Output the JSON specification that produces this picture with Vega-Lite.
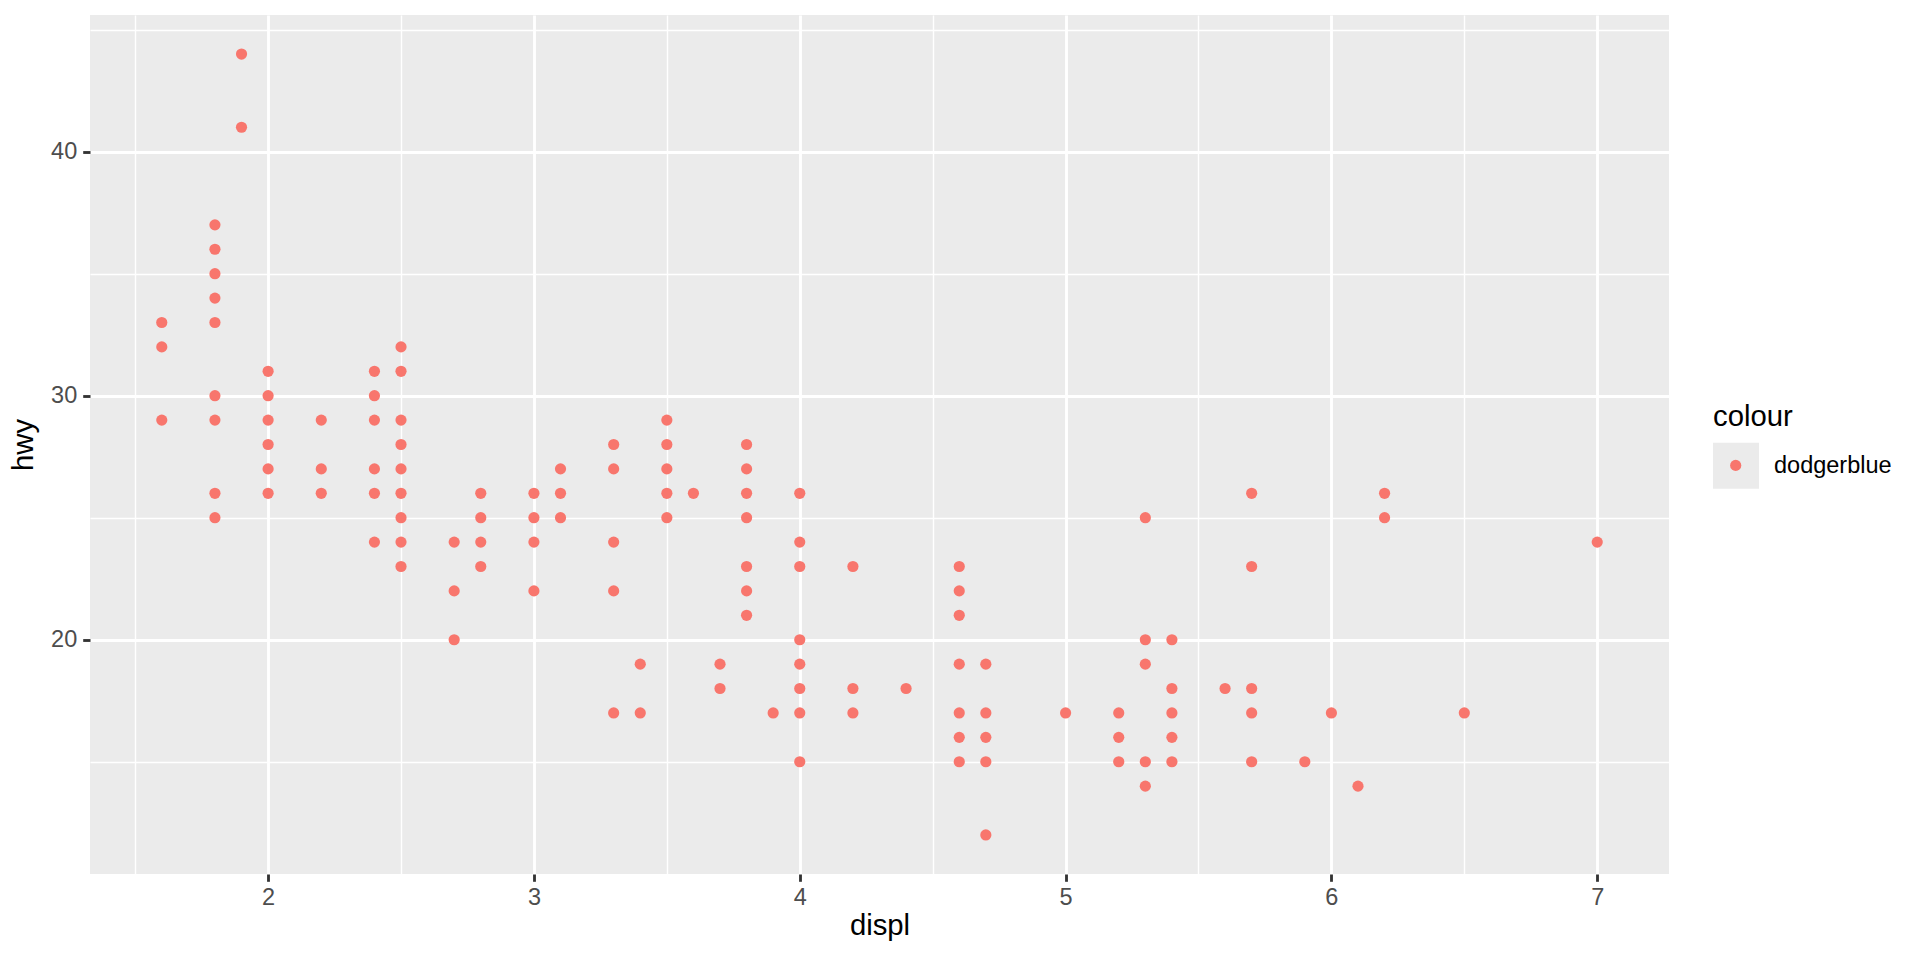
{
  "$schema": "https://vega.github.io/schema/vega-lite/v6.json",
  "width": 1579,
  "height": 859,
  "autosize": {"type": "none"},
  "padding": {"left": 90, "top": 15, "right": 251, "bottom": 86},
  "background": "white",
  "config": {
    "view": {"fill": "#EBEBEB", "stroke": null},
    "font": "Liberation Sans"
  },
  "data": {"values": [
    {"displ":1.6,"hwy":33,"colour":"dodgerblue"},{"displ":1.6,"hwy":32,"colour":"dodgerblue"},{"displ":1.6,"hwy":29,"colour":"dodgerblue"},
    {"displ":1.8,"hwy":37,"colour":"dodgerblue"},{"displ":1.8,"hwy":36,"colour":"dodgerblue"},{"displ":1.8,"hwy":35,"colour":"dodgerblue"},{"displ":1.8,"hwy":34,"colour":"dodgerblue"},{"displ":1.8,"hwy":33,"colour":"dodgerblue"},{"displ":1.8,"hwy":30,"colour":"dodgerblue"},{"displ":1.8,"hwy":29,"colour":"dodgerblue"},{"displ":1.8,"hwy":26,"colour":"dodgerblue"},{"displ":1.8,"hwy":25,"colour":"dodgerblue"},
    {"displ":1.9,"hwy":44,"colour":"dodgerblue"},{"displ":1.9,"hwy":41,"colour":"dodgerblue"},
    {"displ":2.0,"hwy":31,"colour":"dodgerblue"},{"displ":2.0,"hwy":30,"colour":"dodgerblue"},{"displ":2.0,"hwy":29,"colour":"dodgerblue"},{"displ":2.0,"hwy":28,"colour":"dodgerblue"},{"displ":2.0,"hwy":27,"colour":"dodgerblue"},{"displ":2.0,"hwy":26,"colour":"dodgerblue"},
    {"displ":2.2,"hwy":29,"colour":"dodgerblue"},{"displ":2.2,"hwy":27,"colour":"dodgerblue"},{"displ":2.2,"hwy":26,"colour":"dodgerblue"},
    {"displ":2.4,"hwy":31,"colour":"dodgerblue"},{"displ":2.4,"hwy":30,"colour":"dodgerblue"},{"displ":2.4,"hwy":29,"colour":"dodgerblue"},{"displ":2.4,"hwy":27,"colour":"dodgerblue"},{"displ":2.4,"hwy":26,"colour":"dodgerblue"},{"displ":2.4,"hwy":24,"colour":"dodgerblue"},
    {"displ":2.5,"hwy":32,"colour":"dodgerblue"},{"displ":2.5,"hwy":31,"colour":"dodgerblue"},{"displ":2.5,"hwy":29,"colour":"dodgerblue"},{"displ":2.5,"hwy":28,"colour":"dodgerblue"},{"displ":2.5,"hwy":27,"colour":"dodgerblue"},{"displ":2.5,"hwy":26,"colour":"dodgerblue"},{"displ":2.5,"hwy":25,"colour":"dodgerblue"},{"displ":2.5,"hwy":24,"colour":"dodgerblue"},{"displ":2.5,"hwy":23,"colour":"dodgerblue"},
    {"displ":2.7,"hwy":24,"colour":"dodgerblue"},{"displ":2.7,"hwy":22,"colour":"dodgerblue"},{"displ":2.7,"hwy":20,"colour":"dodgerblue"},
    {"displ":2.8,"hwy":26,"colour":"dodgerblue"},{"displ":2.8,"hwy":25,"colour":"dodgerblue"},{"displ":2.8,"hwy":24,"colour":"dodgerblue"},{"displ":2.8,"hwy":23,"colour":"dodgerblue"},
    {"displ":3.0,"hwy":26,"colour":"dodgerblue"},{"displ":3.0,"hwy":25,"colour":"dodgerblue"},{"displ":3.0,"hwy":24,"colour":"dodgerblue"},{"displ":3.0,"hwy":22,"colour":"dodgerblue"},
    {"displ":3.1,"hwy":27,"colour":"dodgerblue"},{"displ":3.1,"hwy":26,"colour":"dodgerblue"},{"displ":3.1,"hwy":25,"colour":"dodgerblue"},
    {"displ":3.3,"hwy":28,"colour":"dodgerblue"},{"displ":3.3,"hwy":27,"colour":"dodgerblue"},{"displ":3.3,"hwy":24,"colour":"dodgerblue"},{"displ":3.3,"hwy":22,"colour":"dodgerblue"},{"displ":3.3,"hwy":17,"colour":"dodgerblue"},
    {"displ":3.4,"hwy":19,"colour":"dodgerblue"},{"displ":3.4,"hwy":17,"colour":"dodgerblue"},
    {"displ":3.5,"hwy":29,"colour":"dodgerblue"},{"displ":3.5,"hwy":28,"colour":"dodgerblue"},{"displ":3.5,"hwy":27,"colour":"dodgerblue"},{"displ":3.5,"hwy":26,"colour":"dodgerblue"},{"displ":3.5,"hwy":25,"colour":"dodgerblue"},
    {"displ":3.6,"hwy":26,"colour":"dodgerblue"},
    {"displ":3.7,"hwy":19,"colour":"dodgerblue"},{"displ":3.7,"hwy":18,"colour":"dodgerblue"},
    {"displ":3.8,"hwy":28,"colour":"dodgerblue"},{"displ":3.8,"hwy":27,"colour":"dodgerblue"},{"displ":3.8,"hwy":26,"colour":"dodgerblue"},{"displ":3.8,"hwy":25,"colour":"dodgerblue"},{"displ":3.8,"hwy":23,"colour":"dodgerblue"},{"displ":3.8,"hwy":22,"colour":"dodgerblue"},{"displ":3.8,"hwy":21,"colour":"dodgerblue"},
    {"displ":3.9,"hwy":17,"colour":"dodgerblue"},
    {"displ":4.0,"hwy":26,"colour":"dodgerblue"},{"displ":4.0,"hwy":24,"colour":"dodgerblue"},{"displ":4.0,"hwy":23,"colour":"dodgerblue"},{"displ":4.0,"hwy":20,"colour":"dodgerblue"},{"displ":4.0,"hwy":19,"colour":"dodgerblue"},{"displ":4.0,"hwy":18,"colour":"dodgerblue"},{"displ":4.0,"hwy":17,"colour":"dodgerblue"},{"displ":4.0,"hwy":15,"colour":"dodgerblue"},
    {"displ":4.2,"hwy":23,"colour":"dodgerblue"},{"displ":4.2,"hwy":18,"colour":"dodgerblue"},{"displ":4.2,"hwy":17,"colour":"dodgerblue"},
    {"displ":4.4,"hwy":18,"colour":"dodgerblue"},
    {"displ":4.6,"hwy":23,"colour":"dodgerblue"},{"displ":4.6,"hwy":22,"colour":"dodgerblue"},{"displ":4.6,"hwy":21,"colour":"dodgerblue"},{"displ":4.6,"hwy":19,"colour":"dodgerblue"},{"displ":4.6,"hwy":17,"colour":"dodgerblue"},{"displ":4.6,"hwy":16,"colour":"dodgerblue"},{"displ":4.6,"hwy":15,"colour":"dodgerblue"},
    {"displ":4.7,"hwy":19,"colour":"dodgerblue"},{"displ":4.7,"hwy":17,"colour":"dodgerblue"},{"displ":4.7,"hwy":16,"colour":"dodgerblue"},{"displ":4.7,"hwy":15,"colour":"dodgerblue"},{"displ":4.7,"hwy":12,"colour":"dodgerblue"},
    {"displ":5.0,"hwy":17,"colour":"dodgerblue"},
    {"displ":5.2,"hwy":17,"colour":"dodgerblue"},{"displ":5.2,"hwy":16,"colour":"dodgerblue"},{"displ":5.2,"hwy":15,"colour":"dodgerblue"},
    {"displ":5.3,"hwy":25,"colour":"dodgerblue"},{"displ":5.3,"hwy":20,"colour":"dodgerblue"},{"displ":5.3,"hwy":19,"colour":"dodgerblue"},{"displ":5.3,"hwy":15,"colour":"dodgerblue"},{"displ":5.3,"hwy":14,"colour":"dodgerblue"},
    {"displ":5.4,"hwy":20,"colour":"dodgerblue"},{"displ":5.4,"hwy":18,"colour":"dodgerblue"},{"displ":5.4,"hwy":17,"colour":"dodgerblue"},{"displ":5.4,"hwy":16,"colour":"dodgerblue"},{"displ":5.4,"hwy":15,"colour":"dodgerblue"},
    {"displ":5.6,"hwy":18,"colour":"dodgerblue"},
    {"displ":5.7,"hwy":26,"colour":"dodgerblue"},{"displ":5.7,"hwy":23,"colour":"dodgerblue"},{"displ":5.7,"hwy":18,"colour":"dodgerblue"},{"displ":5.7,"hwy":17,"colour":"dodgerblue"},{"displ":5.7,"hwy":15,"colour":"dodgerblue"},
    {"displ":5.9,"hwy":15,"colour":"dodgerblue"},
    {"displ":6.0,"hwy":17,"colour":"dodgerblue"},
    {"displ":6.1,"hwy":14,"colour":"dodgerblue"},
    {"displ":6.2,"hwy":26,"colour":"dodgerblue"},{"displ":6.2,"hwy":25,"colour":"dodgerblue"},
    {"displ":6.5,"hwy":17,"colour":"dodgerblue"},
    {"displ":7.0,"hwy":24,"colour":"dodgerblue"}
  ]},
  "layer": [
    {
      "mark": {"type": "point", "filled": true, "shape": "square", "size": 0, "opacity": 1},
      "encoding": {
        "x": {"field": "displ", "type": "quantitative",
          "scale": {"domain": [1.33, 7.27], "nice": false, "zero": false},
          "axis": {"orient": "bottom", "values": [1.5, 2.5, 3.5, 4.5, 5.5, 6.5], "grid": true, "gridColor": "#FFFFFF", "gridWidth": 1.42, "labels": false, "ticks": false, "domain": false, "title": null}},
        "y": {"field": "hwy", "type": "quantitative",
          "scale": {"domain": [10.4, 45.6], "nice": false, "zero": false},
          "axis": {"orient": "left", "values": [15, 25, 35, 45], "grid": true, "gridColor": "#FFFFFF", "gridWidth": 1.42, "labels": false, "ticks": false, "domain": false, "title": null}},
        "color": {"field": "colour", "type": "nominal",
          "scale": {"range": ["#EBEBEB"]},
          "legend": {"orient": "none", "legendX": 1623, "legendY": 387.6, "padding": 0,
            "title": "colour", "titleFontSize": 29.3, "titleColor": "#000000", "titleFontWeight": "normal", "titlePadding": 10.8,
            "labelFontSize": 23.5, "labelColor": "#000000", "labelOffset": 15,
            "symbolType": "square", "symbolSize": 2116, "symbolStrokeWidth": 0, "symbolOpacity": 1, "zindex": 1}}
      }
    },
    {
      "mark": {"type": "point", "filled": true, "shape": "circle", "size": 125, "opacity": 1, "strokeWidth": 0},
      "encoding": {
        "x": {"field": "displ", "type": "quantitative",
          "axis": {"orient": "bottom", "values": [2, 3, 4, 5, 6, 7], "grid": true, "gridColor": "#FFFFFF", "gridWidth": 2.84, "domain": false,
            "tickColor": "#333333", "tickWidth": 2.84, "tickSize": 7.3, "labelColor": "#4D4D4D", "labelFontSize": 23.5, "labelPadding": 4, "labelFlush": false,
            "title": "displ", "titleFontSize": 29.3, "titleColor": "#000000", "titleFontWeight": "normal", "titlePadding": 3}},
        "y": {"field": "hwy", "type": "quantitative",
          "axis": {"orient": "left", "values": [20, 30, 40], "grid": true, "gridColor": "#FFFFFF", "gridWidth": 2.84, "domain": false,
            "tickColor": "#333333", "tickWidth": 2.84, "tickSize": 7.3, "labelColor": "#4D4D4D", "labelFontSize": 23.5, "labelPadding": 6,
            "title": "hwy", "titleFontSize": 29.3, "titleColor": "#000000", "titleFontWeight": "normal", "titlePadding": 12}},
        "fill": {"field": "colour", "type": "nominal",
          "scale": {"domain": ["dodgerblue"], "range": ["#F8766D"]},
          "legend": {"orient": "none", "legendX": 1639.7, "legendY": 444.4, "padding": 0,
            "title": null, "labelExpr": "''", "labelFontSize": 1, "labelOffset": 0,
            "symbolType": "circle", "symbolSize": 125, "symbolStrokeWidth": 0, "symbolOpacity": 1, "zindex": 5}}
      }
    }
  ],
  "resolve": {"axis": {"x": "independent", "y": "independent"}}
}
